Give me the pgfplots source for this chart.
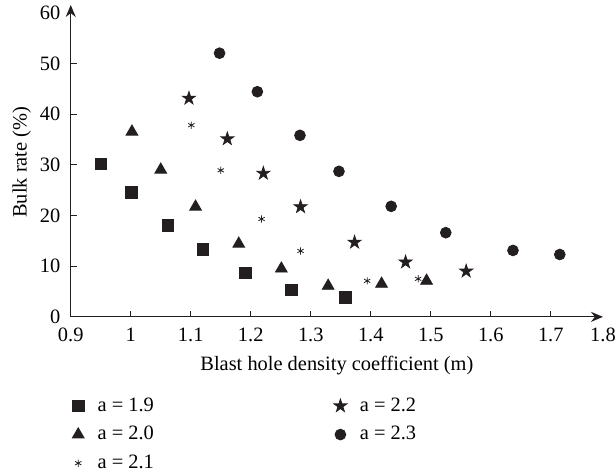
\documentclass[border=0pt]{standalone}
\usepackage{fontspec}
\setmainfont{Liberation Serif}
\usepackage{pgfplots}
\pgfplotsset{compat=1.18}
\usetikzlibrary{arrows.meta}
\definecolor{ink}{HTML}{231F20}

% filled five-pointed star
\pgfdeclareplotmark{fstar}{%
  \pgfpathmoveto{\pgfpointpolar{90}{\pgfplotmarksize}}%
  \pgfpathlineto{\pgfpointpolar{126}{0.382\pgfplotmarksize}}%
  \pgfpathlineto{\pgfpointpolar{162}{\pgfplotmarksize}}%
  \pgfpathlineto{\pgfpointpolar{198}{0.382\pgfplotmarksize}}%
  \pgfpathlineto{\pgfpointpolar{234}{\pgfplotmarksize}}%
  \pgfpathlineto{\pgfpointpolar{270}{0.382\pgfplotmarksize}}%
  \pgfpathlineto{\pgfpointpolar{306}{\pgfplotmarksize}}%
  \pgfpathlineto{\pgfpointpolar{342}{0.382\pgfplotmarksize}}%
  \pgfpathlineto{\pgfpointpolar{18}{\pgfplotmarksize}}%
  \pgfpathlineto{\pgfpointpolar{54}{0.382\pgfplotmarksize}}%
  \pgfpathclose
  \pgfusepathqfillstroke}

\begin{document}
\fontsize{10.2}{12}\selectfont
\begin{tikzpicture}
\begin{axis}[
    name=ax,
    scale only axis,
    width=266pt, height=155.85pt,
    xmin=0.9, xmax=1.787, ymin=0, ymax=61.5,
    axis lines=left,
    axis line style={ink, line width=0.6pt, -{Stealth[length=6pt,width=5pt]}},
    xtick={0.9,1,1.1,1.2,1.3,1.4,1.5,1.6,1.7},
    extra x ticks={1.787}, extra x tick labels={1.8},
    ytick={0,10,20,30,40,50},
    extra y ticks={60}, extra y tick labels={60},
    extra tick style={major tick length=0pt},
    tick align=inside, major tick length=3pt,
    tick style={ink, line width=0.5pt},
    /pgf/number format/assume math mode=true,
    xticklabel style={anchor=base, yshift=-12.5pt},
    yticklabel style={anchor=east, xshift=-1.6pt},
    xlabel={Blast hole density coefficient (m)},
    ylabel={Bulk rate (\%)},
    xlabel style={anchor=center, at={(axis description cs:0.5,-0.155)}},
    ylabel style={anchor=center, at={(axis description cs:-0.092,0.496)}},
    legend style={draw=none, fill=none, at={(axis description cs:0.0,-0.245)},
        anchor=north west, xshift=-0.65pt, inner sep=0pt, row sep=2pt,
        /tikz/every even column/.append style={column sep=87pt}},
    legend image code/.code={\path (-4pt,0pt) (7.5pt,0pt);
        \draw[#1] plot coordinates {(0pt,0pt)};},
    legend cell align=left,
    transpose legend, legend columns=3,
]
\addplot[only marks, mark=square*, mark size=2.9pt, ink] coordinates {
    (0.950,30.2) (1.001,24.5) (1.062,18.0) (1.120,13.3)
    (1.191,8.7) (1.268,5.3) (1.358,3.8)
};
\addlegendentry{a = 1.9}
\addplot[only marks, mark=triangle*, mark size=3.4pt, ink] coordinates {
    (1.002,36.5) (1.050,29.0) (1.108,21.7) (1.180,14.4)
    (1.251,9.5) (1.329,6.1) (1.418,6.5) (1.493,7.1)
};
\addlegendentry{a = 2.0}
\addplot[only marks, mark=asterisk, mark size=1.8pt, ink, line width=0.4pt] coordinates {
    (1.101,37.8) (1.150,28.9) (1.218,19.3) (1.283,13.0)
    (1.394,7.1) (1.479,7.5)
};
\addlegendentry{a = 2.1}
\addplot[only marks, mark=fstar, mark size=3.4pt, ink] coordinates {
    (1.097,43.1) (1.161,35.1) (1.221,28.3) (1.283,21.7)
    (1.373,14.7) (1.458,10.8) (1.559,9.0)
};
\addlegendentry{a = 2.2}
\addplot[only marks, mark=*, mark size=2.7pt, ink] coordinates {
    (1.148,52.0) (1.211,44.4) (1.282,35.8) (1.347,28.7)
    (1.434,21.8) (1.525,16.6) (1.637,13.1) (1.715,12.3)
};
\addlegendentry{a = 2.3}
\end{axis}
\pgfresetboundingbox
\path[use as bounding box] ([xshift=-35.35pt,yshift=-78.65pt]ax.south west)
    rectangle ([xshift=6pt,yshift=2.5pt]ax.north east);
\end{tikzpicture}
\end{document}
